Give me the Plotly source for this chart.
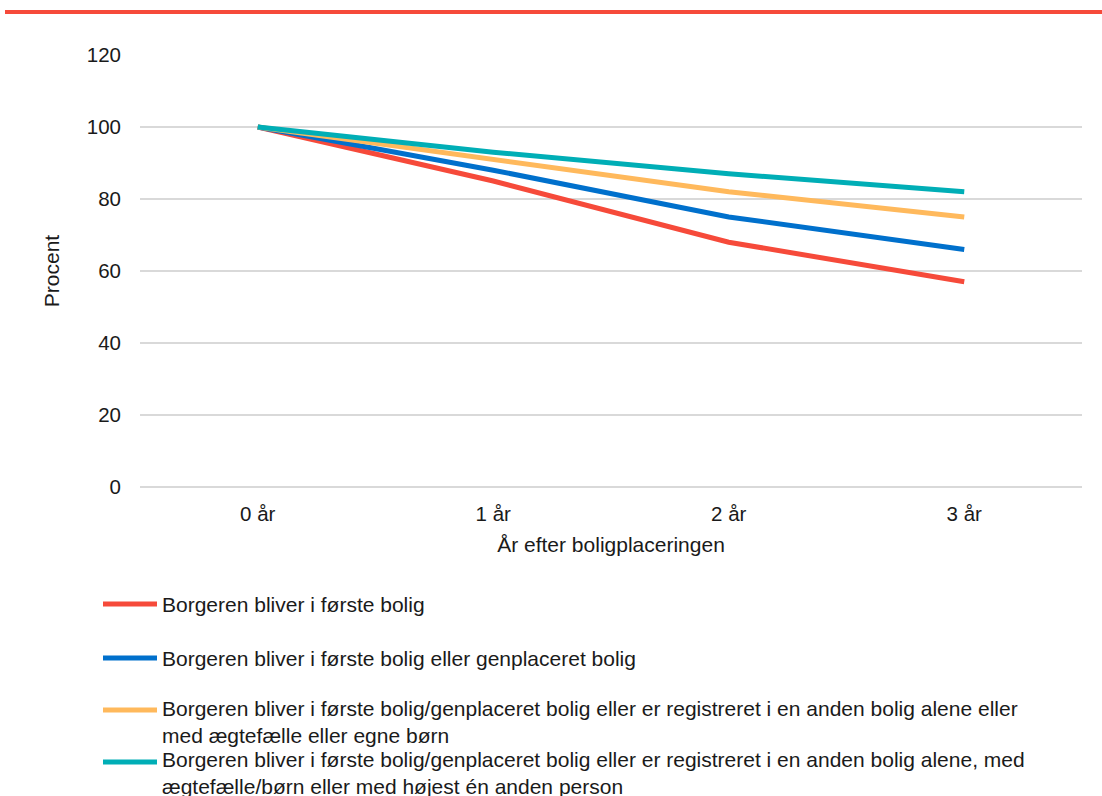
import plotly.graph_objects as go

# Years after placement (category axis)
years = ["0 år", "1 år", "2 år", "3 år"]

# Share (%) of citizens still housed, per definition
first_home = [100, 85, 68, 57]
first_or_rehoused = [100, 88, 75, 66]
alone_or_family = [100, 91, 82, 75]
at_most_one_other = [100, 93, 87, 82]

series_names = [
    "Borgeren bliver i første bolig",
    "Borgeren bliver i første bolig eller genplaceret bolig",
    "Borgeren bliver i første bolig/genplaceret bolig eller er registreret i en anden bolig alene eller<br>med ægtefælle eller egne børn",
    "Borgeren bliver i første bolig/genplaceret bolig eller er registreret i en anden bolig alene, med<br>ægtefælle/børn eller med højest én anden person",
]
series_values = [first_home, first_or_rehoused, alone_or_family, at_most_one_other]
series_colors = ["#F64A3A", "#0070CC", "#FFB95C", "#00AEB6"]

FONT = "Liberation Sans, Arial, sans-serif"
TEXT = "#1A1A1A"
GRID = "#D9D9D9"

fig = go.Figure()
for name, vals, col in zip(series_names, series_values, series_colors):
    fig.add_trace(go.Scatter(
        x=years, y=vals, name=name, mode="lines",
        line=dict(color=col, width=5), showlegend=False,
    ))

# Plot-area geometry in pixels, used to place the legend rows below the axes
L, R, T, B = 140, 20, 55, 309
W, H = 1102, 796
pw, ph = W - L - R, H - T - B


def px_x(x):
    return (x - L) / pw


def px_y(y):
    return (H - B - y) / ph


shapes = [
    # red rule across the top of the page
    dict(type="line", xref="paper", yref="paper",
         x0=px_x(5), x1=px_x(W), y0=px_y(12), y1=px_y(12),
         line=dict(color="#F64A3A", width=4)),
]
annotations = []

# Legend rows: symbol y (first text line) and text centre y, in pixels
row_symbol_y = [604, 658, 710, 762]
row_text_y = [604, 658, 722, 773]
for name, col, sy, ty in zip(series_names, series_colors, row_symbol_y, row_text_y):
    shapes.append(dict(type="line", xref="paper", yref="paper",
                       x0=px_x(103), x1=px_x(157), y0=px_y(sy), y1=px_y(sy),
                       line=dict(color=col, width=5)))
    annotations.append(dict(xref="paper", yref="paper", x=px_x(160), y=px_y(ty),
                            xanchor="left", yanchor="middle", align="left",
                            showarrow=False, text=name,
                            font=dict(family=FONT, size=21, color=TEXT)))

fig.update_layout(
    width=W, height=H,
    margin=dict(l=L, r=R, t=T, b=B, autoexpand=False),
    paper_bgcolor="white", plot_bgcolor="white",
    font=dict(family=FONT, size=20, color=TEXT),
    showlegend=False,
    shapes=shapes,
    annotations=annotations,
    xaxis=dict(
        type="category", range=[-0.5, 3.5],
        showgrid=False, zeroline=False, showline=False,
        ticks="", ticklabelstandoff=12,
        title=dict(text="År efter boligplaceringen", standoff=13,
                   font=dict(size=21)),
        tickfont=dict(size=20.5),
    ),
    yaxis=dict(
        range=[0, 120], dtick=20, tick0=0,
        showgrid=True, gridcolor=GRID, gridwidth=1.5,
        zeroline=True, zerolinecolor=GRID, zerolinewidth=1.5,
        showline=False, ticks="", ticklabelstandoff=18,
        title=dict(text="Procent", standoff=21, font=dict(size=21)),
        tickfont=dict(size=20.5),
    ),
)

fig.write_html("out.html")
